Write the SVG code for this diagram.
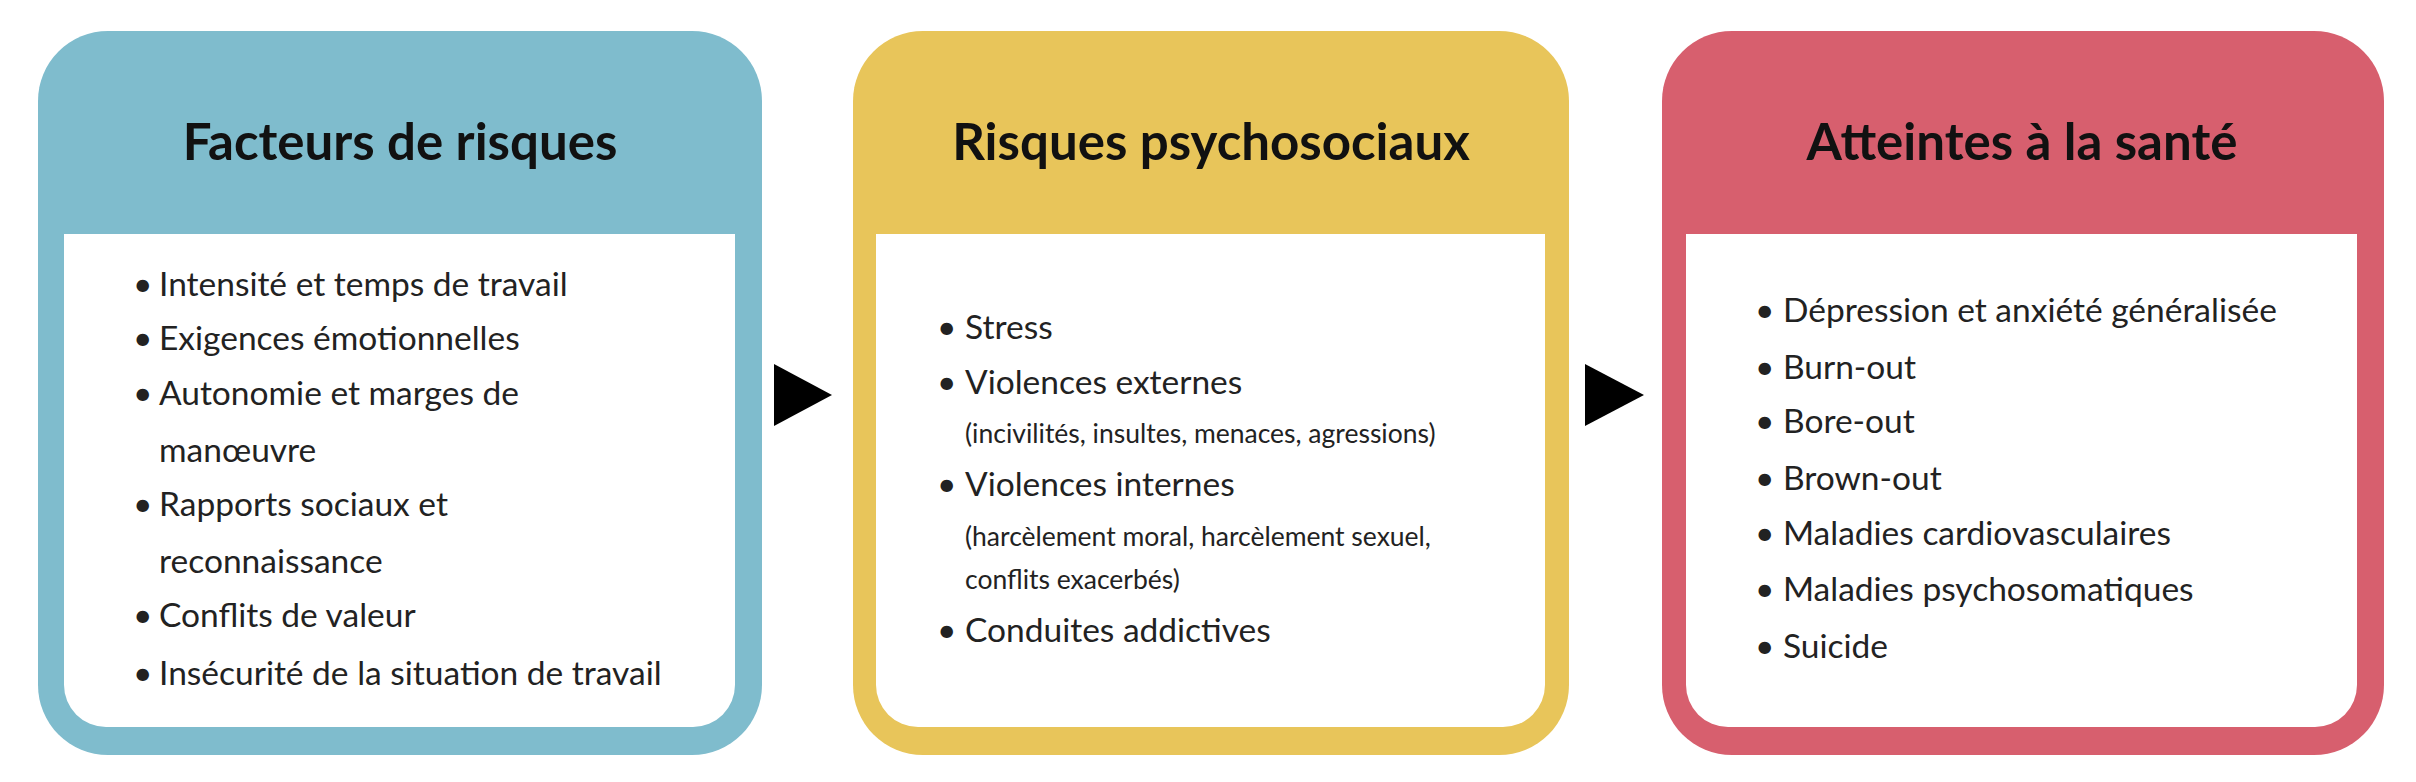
<svg xmlns="http://www.w3.org/2000/svg" width="2416" height="782" viewBox="0 0 2416 782">
<style>
.t{font-family:Lato,"Open Sans",sans-serif;font-weight:bold;font-size:51px;fill:#111;text-anchor:middle}
.b{font-family:Lato,"Open Sans",sans-serif;font-size:33.5px;fill:#222}
.s{font-family:Lato,"Open Sans",sans-serif;font-size:26.5px;fill:#222}
.w{fill:#fff}
</style>
<rect width="2416" height="782" fill="#fff"/>
<g id="facteurs">
<rect x="38" y="31" width="724" height="724" rx="70" fill="#7fbccd"/>
<path class="w" d="M64 234H735V685a42 42 0 0 1-42 42H106a42 42 0 0 1-42-42Z"/>
<text class="t" x="400" y="160">Facteurs de risques</text>
<g class="b">
<text x="133" y="296">• <tspan x="159">Intensité et temps de travail</tspan></text>
<text x="133" y="350">• <tspan x="159">Exigences émotionnelles</tspan></text>
<text x="133" y="405">• <tspan x="159">Autonomie et marges de</tspan></text>
<text x="159" y="462">manœuvre</text>
<text x="133" y="516">• <tspan x="159">Rapports sociaux et</tspan></text>
<text x="159" y="573">reconnaissance</text>
<text x="133" y="627">• <tspan x="159">Conflits de valeur</tspan></text>
<text x="133" y="685">• <tspan x="159">Insécurité de la situation de travail</tspan></text>
</g>
</g>
<g id="rps">
<rect x="853" y="31" width="716" height="724" rx="70" fill="#e8c55a"/>
<path class="w" d="M876 234H1545V685a42 42 0 0 1-42 42H918a42 42 0 0 1-42-42Z"/>
<text class="t" x="1211" y="160">Risques psychosociaux</text>
<g class="b">
<text x="937" y="339">• <tspan x="965">Stress</tspan></text>
<text x="937" y="394">• <tspan x="965">Violences externes</tspan></text>
<text class="s" x="965" y="443">(incivilités, insultes, menaces, agressions)</text>
<text x="937" y="496">• <tspan x="965">Violences internes</tspan></text>
<text class="s" x="965" y="546">(harcèlement moral, harcèlement sexuel,</text>
<text class="s" x="965" y="589">conflits exacerbés)</text>
<text x="937" y="642">• <tspan x="965">Conduites addictives</tspan></text>
</g>
</g>
<g id="sante">
<rect x="1662" y="31" width="722" height="724" rx="70" fill="#d75f6e"/>
<path class="w" d="M1686 234H2357V685a42 42 0 0 1-42 42H1728a42 42 0 0 1-42-42Z"/>
<text class="t" x="2022" y="160">Atteintes à la santé</text>
<g class="b">
<text x="1755" y="322">• <tspan x="1783">Dépression et anxiété généralisée</tspan></text>
<text x="1755" y="379">• <tspan x="1783">Burn-out</tspan></text>
<text x="1755" y="433">• <tspan x="1783">Bore-out</tspan></text>
<text x="1755" y="490">• <tspan x="1783">Brown-out</tspan></text>
<text x="1755" y="545">• <tspan x="1783">Maladies cardiovasculaires</tspan></text>
<text x="1755" y="601">• <tspan x="1783">Maladies psychosomatiques</tspan></text>
<text x="1755" y="658">• <tspan x="1783">Suicide</tspan></text>
</g>
</g>
<g id="connectors" fill="#000">
<polygon points="774,364 832,395 774,426"/>
<polygon points="1585,364 1644,395 1585,426"/>
</g>
</svg>
